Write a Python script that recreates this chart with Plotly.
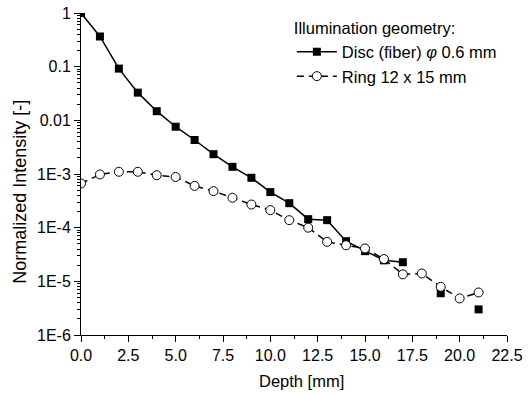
import plotly.graph_objects as go

depth = list(range(0, 22))
disc = [1.0, 0.365, 0.092, 0.0328, 0.0148, 0.0076, 0.0043, 0.00234, 0.00136, 0.00085,
        0.00046, 0.000286, 0.000144, 0.000138, 5.6e-5, 3.65e-5, 2.46e-5, 2.27e-5,
        None, 6.0e-6, None, 3.0e-6]
ring = [0.000665, 0.00098, 0.0011, 0.0011, 0.00095, 0.00088, 0.0006, 0.00048, 0.00036,
        0.00027, 0.000212, 0.000138, 0.0001, 5.45e-5, 4.7e-5, 4.1e-5, 2.6e-5, 1.35e-5,
        1.4e-5, 7.9e-6, 4.8e-6, 6.2e-6]

y_tickvals = [1, 0.1, 0.01, 1e-3, 1e-4, 1e-5, 1e-6]
y_ticktext = ["1", "0.1", "0.01", "1E-3", "1E-4", "1E-5", "1E-6"]
x_tickvals = [0, 2.5, 5, 7.5, 10, 12.5, 15, 17.5, 20, 22.5]
x_ticktext = ["0.0", "2.5", "5.0", "7.5", "10.0", "12.5", "15.0", "17.5", "20.0", "22.5"]

FONT = "Liberation Sans, Arial, sans-serif"

fig = go.Figure()
fig.add_trace(go.Scatter(
    x=depth, y=disc, mode="lines+markers", name="Disc (fiber) <i>φ</i> 0.6 mm",
    line=dict(color="black", width=1.5), connectgaps=False,
    marker=dict(symbol="square", size=8, color="black"),
))
fig.add_trace(go.Scatter(
    x=depth, y=ring, mode="lines+markers", name="Ring 12 x 15 mm",
    line=dict(color="black", width=1.5, dash="7px,5px"),
    marker=dict(symbol="circle", size=9, color="white", line=dict(color="black", width=1)),
))

minor_y = [m * 10.0 ** e for e in range(-6, 0) for m in range(2, 10)]

fig.update_layout(
    width=529, height=396,
    margin=dict(l=81, r=22, t=13, b=61, autoexpand=False),
    paper_bgcolor="white", plot_bgcolor="white",
    font=dict(family=FONT, size=16, color="black"),
    showlegend=True,
    legend=dict(
        title=dict(text="Illumination geometry:", font=dict(size=16.5)),
        font=dict(size=16.5), x=0.495, y=1.0, xanchor="left", yanchor="top",
        bgcolor="rgba(0,0,0,0)", tracegroupgap=0, itemwidth=40,
    ),
    annotations=[
        dict(text="Depth [mm]", xref="paper", yref="paper", x=(301 - 81) / 426, y=-(381 - 335) / 322.3,
             xanchor="center", yanchor="middle", showarrow=False, font=dict(size=16.5)),
        dict(text="Normalized Intensity [-]", xref="paper", yref="paper", x=-(81 - 20) / 426,
             y=1 - (192 - 13) / 322.3, xanchor="center", yanchor="middle", textangle=-90,
             showarrow=False, font=dict(size=18)),
    ],
)
fig.update_xaxes(
    range=[0, 22.5], tickmode="array", tickvals=x_tickvals, ticktext=x_ticktext,
    ticks="outside", ticklen=6, tickwidth=1, tickcolor="black",
    showline=True, linecolor="black", linewidth=1, showgrid=False, zeroline=False,
    minor=dict(ticks="outside", ticklen=3, tickcolor="black", dtick=1.25, tick0=0, showgrid=False),
    tickfont=dict(size=16), automargin=False,
)
fig.update_yaxes(
    type="log", range=[-6, 0], tickmode="array", tickvals=y_tickvals, ticktext=y_ticktext,
    ticks="outside", ticklen=6, tickwidth=1, tickcolor="black",
    showline=True, linecolor="black", linewidth=1, showgrid=False, zeroline=False,
    minor=dict(ticks="outside", ticklen=3, tickcolor="black", tickvals=minor_y, showgrid=False),
    tickfont=dict(size=16), automargin=False,
)

fig.write_html("out.html")
